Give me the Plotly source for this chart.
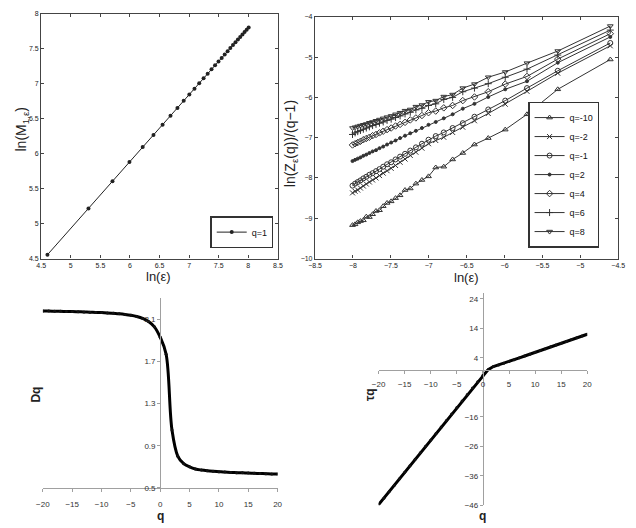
import plotly.graph_objects as go

# ---------------- data ----------------
# top-left: ln(M_1,eps) vs ln(eps)
ln_eps = [4.605, 5.298, 5.704, 5.991, 6.215, 6.397, 6.551, 6.685, 6.802, 6.908,
          7.003, 7.090, 7.170, 7.244, 7.313, 7.378, 7.438, 7.496, 7.550, 7.601,
          7.650, 7.696, 7.741, 7.783, 7.824, 7.863, 7.901, 7.937, 7.972, 8.006]
ln_M = [4.555, 5.217, 5.605, 5.880, 6.094, 6.268, 6.415, 6.543, 6.655, 6.756,
        6.847, 6.930, 7.007, 7.078, 7.144, 7.206, 7.263, 7.319, 7.370, 7.419,
        7.466, 7.510, 7.553, 7.593, 7.632, 7.669, 7.706, 7.740, 7.774, 7.806]

# top-right: ln(Z_eps(q))/(q-1) vs ln(eps)
ln_eps_neg = [-4.605, -5.298, -5.704, -5.991, -6.215, -6.397, -6.551, -6.685, -6.802, -6.908,
              -7.003, -7.090, -7.170, -7.244, -7.313, -7.378, -7.438, -7.496, -7.550, -7.601,
              -7.650, -7.696, -7.741, -7.783, -7.824, -7.863, -7.901, -7.937, -7.972, -8.006]
z_qm10 = [-5.06, -5.80, -6.42, -6.80, -7.01, -7.17, -7.38, -7.54, -7.72, -7.74,
          -7.96, -8.05, -8.14, -8.26, -8.30, -8.43, -8.50, -8.58, -8.62, -8.70,
          -8.80, -8.82, -8.90, -8.97, -8.96, -9.05, -9.07, -9.10, -9.15, -9.17]
z_qm2 = [-4.72, -5.40, -5.85, -6.17, -6.40, -6.58, -6.74, -6.87, -6.99, -7.07,
         -7.15, -7.26, -7.36, -7.44, -7.53, -7.61, -7.69, -7.76, -7.82, -7.88,
         -7.94, -8.00, -8.05, -8.10, -8.15, -8.20, -8.25, -8.30, -8.33, -8.37]
z_qm1 = [-4.65, -5.34, -5.77, -6.08, -6.30, -6.48, -6.64, -6.76, -6.87, -6.96,
         -7.05, -7.15, -7.24, -7.32, -7.40, -7.47, -7.54, -7.61, -7.66, -7.72,
         -7.78, -7.83, -7.88, -7.92, -7.97, -8.01, -8.06, -8.10, -8.14, -8.19]
z_q2 = [-4.50, -5.14, -5.60, -5.80, -5.99, -6.16, -6.28, -6.42, -6.52, -6.61,
        -6.68, -6.76, -6.83, -6.89, -6.95, -7.01, -7.07, -7.12, -7.17, -7.22,
        -7.26, -7.31, -7.34, -7.38, -7.42, -7.45, -7.49, -7.52, -7.55, -7.58]
z_q4 = [-4.42, -5.05, -5.48, -5.67, -5.86, -5.99, -6.08, -6.20, -6.26, -6.34,
        -6.38, -6.45, -6.51, -6.56, -6.62, -6.67, -6.71, -6.76, -6.80, -6.84,
        -6.88, -6.92, -6.95, -6.99, -7.02, -7.05, -7.09, -7.12, -7.15, -7.18]
z_q6 = [-4.33, -4.95, -5.30, -5.50, -5.66, -5.77, -5.86, -6.00, -6.05, -6.16,
        -6.20, -6.27, -6.31, -6.37, -6.41, -6.46, -6.50, -6.54, -6.57, -6.61,
        -6.64, -6.67, -6.70, -6.73, -6.76, -6.79, -6.82, -6.85, -6.88, -6.92]
z_q8 = [-4.23, -4.85, -5.15, -5.37, -5.50, -5.67, -5.77, -5.93, -5.98, -6.08,
        -6.11, -6.19, -6.23, -6.30, -6.33, -6.38, -6.42, -6.46, -6.49, -6.52,
        -6.55, -6.58, -6.61, -6.63, -6.66, -6.68, -6.70, -6.72, -6.74, -6.76]
series_names = ["q=-10", "q=-2", "q=-1", "q=2", "q=4", "q=6", "q=8"]
series_vals = [z_qm10, z_qm2, z_qm1, z_q2, z_q4, z_q6, z_q8]
series_symbols = ["triangle-up-open", "x-thin", "circle-open", "circle",
                  "diamond-open", "cross-thin", "triangle-down-open"]

# bottom: generalized dimensions
q_vals = list(range(-20, 21))
Dq = [2.180, 2.180, 2.178, 2.177, 2.176, 2.175, 2.173, 2.171, 2.169, 2.167,
      2.165, 2.162, 2.158, 2.154, 2.148, 2.140, 2.128, 2.110, 2.080, 2.030,
      1.930, 1.770, 1.050, 0.800, 0.730, 0.700, 0.680, 0.670, 0.663, 0.658,
      0.654, 0.650, 0.647, 0.645, 0.643, 0.641, 0.639, 0.637, 0.635, 0.633, 0.632]
tau_q = [-45.78, -43.60, -41.38, -39.19, -36.99, -34.80, -32.60, -30.39, -28.20, -26.00,
         -23.82, -21.62, -19.42, -17.23, -15.04, -12.84, -10.64, -8.44, -6.24, -4.06,
         -1.93, 0.00, 1.05, 1.60, 2.19, 2.80, 3.40, 4.02, 4.64, 5.26,
         5.89, 6.50, 7.12, 7.74, 8.36, 8.97, 9.59, 10.19, 10.80, 11.39, 12.01]

# ---------------- figure ----------------
W, H = 636, 528
def px(x):
    return x / W
def py(y):
    return 1 - y / H

FONT = "Liberation Sans, Arial, sans-serif"
fig = go.Figure()

# top-left
fig.add_trace(go.Scatter(x=ln_eps, y=ln_M, mode="lines+markers", name="q=1",
                         line=dict(color="#222", width=1),
                         marker=dict(symbol="circle", size=4, color="#222"),
                         xaxis="x", yaxis="y", legend="legend"))

# top-right
for nm, vals, sym in zip(series_names, series_vals, series_symbols):
    fig.add_trace(go.Scatter(x=ln_eps_neg, y=vals, mode="lines+markers", name=nm,
                             line=dict(color="#333", width=1),
                             marker=dict(symbol=sym, size=5 if sym != "circle" else 3,
                                         color="#333", line=dict(color="#333", width=1)),
                             xaxis="x2", yaxis="y2", legend="legend2"))

# bottom-left
fig.add_trace(go.Scatter(x=q_vals, y=Dq, mode="lines+markers", line_shape="spline",
                         line=dict(color="black", width=3),
                         marker=dict(size=3, color="#111"),
                         xaxis="x3", yaxis="y3", showlegend=False))
# bottom-right
fig.add_trace(go.Scatter(x=q_vals, y=tau_q, mode="lines+markers",
                         line=dict(color="black", width=3),
                         marker=dict(size=3, color="#111"),
                         xaxis="x4", yaxis="y4", showlegend=False))

frame = dict(showline=True, linecolor="#444", linewidth=1.3, mirror="ticks",
             ticks="inside", ticklen=3, tickcolor="#444", showgrid=False,
             zeroline=False, tickfont=dict(size=7, color="#222", family=FONT))
excel = dict(showline=True, linecolor="#a0a0a0", linewidth=1.3, ticks="outside",
             ticklen=3, tickcolor="#a0a0a0", showgrid=False, zeroline=False,
             tickfont=dict(size=8, color="#333", family=FONT))

fig.update_layout(
    width=W, height=H, margin=dict(l=0, r=0, t=0, b=0),
    paper_bgcolor="white", plot_bgcolor="white",
    font=dict(family=FONT, color="#222"),
    xaxis=dict(domain=[px(35), px(277)], range=[4.5, 8.5], dtick=0.5, tick0=4.5,
               anchor="y", **frame),
    yaxis=dict(domain=[py(259), py(10)], range=[4.5, 8], dtick=0.5, tick0=4.5,
               anchor="x", **frame),
    xaxis2=dict(domain=[px(315), px(625)], range=[-8.5, -4.5], dtick=0.5, tick0=-8.5,
                anchor="y2", **frame),
    yaxis2=dict(domain=[py(259), py(13)], range=[-10, -4], dtick=1,
                anchor="x2", **frame),
    xaxis3=dict(domain=[px(36.7), px(276.7)], range=[-20, 20], dtick=5, tick0=-20,
                anchor="y3", ticklabelstandoff=5, **excel),
    yaxis3=dict(domain=[py(492.3), py(299.5)], range=[0.5, 2.3],
                tickvals=[0.5, 0.9, 1.3, 1.7, 2.1],
                anchor="free", position=px(156.7), **excel),
    xaxis4=dict(domain=[px(380), px(593.3)], range=[-20, 20], dtick=5, tick0=-20,
                anchor="free", position=py(372), ticklabelstandoff=4, **excel),
    yaxis4=dict(domain=[py(510), py(294)], range=[-46, 26],
                tickvals=[-46, -36, -26, -16, 4, 14, 24],
                anchor="free", position=px(486.7), **excel),
    legend=dict(x=px(208), y=py(216), xanchor="left", yanchor="top",
                bordercolor="#333", borderwidth=1.3, bgcolor="white",
                font=dict(size=9, family=FONT, color="#111"), itemwidth=30),
    legend2=dict(x=px(533), y=py(248), xanchor="left", yanchor="bottom",
                 bordercolor="#333", borderwidth=1.3, bgcolor="white",
                 font=dict(size=9, family=FONT, color="#111"), itemwidth=30,
                 tracegroupgap=0),
)

ann = [
    dict(text="ln(M<sub>1,ε</sub>)", x=px(15), y=py(128), textangle=-90, size=14),
    dict(text="ln(ε)", x=px(155), y=py(277), textangle=0, size=13),
    dict(text="ln(Z<sub>ε</sub>(q))/(q−1)", x=px(290), y=py(142), textangle=-90, size=14),
    dict(text="ln(ε)", x=px(470), y=py(278), textangle=0, size=13),
    dict(text="<b>Dq</b>", x=px(30), y=py(397), textangle=-90, size=12),
    dict(text="<b>q</b>", x=px(157), y=py(521), textangle=0, size=12),
    dict(text="<b>τq</b>", x=px(371), y=py(397), textangle=-90, size=12),
    dict(text="<b>q</b>", x=px(486), y=py(521), textangle=0, size=12),
]
for a in ann:
    fig.add_annotation(text=a["text"], x=a["x"], y=a["y"], xref="paper", yref="paper",
                       showarrow=False, textangle=a["textangle"],
                       xanchor="center", yanchor="middle",
                       font=dict(size=a["size"], family=FONT, color="#222"))

fig.write_html("out.html")
